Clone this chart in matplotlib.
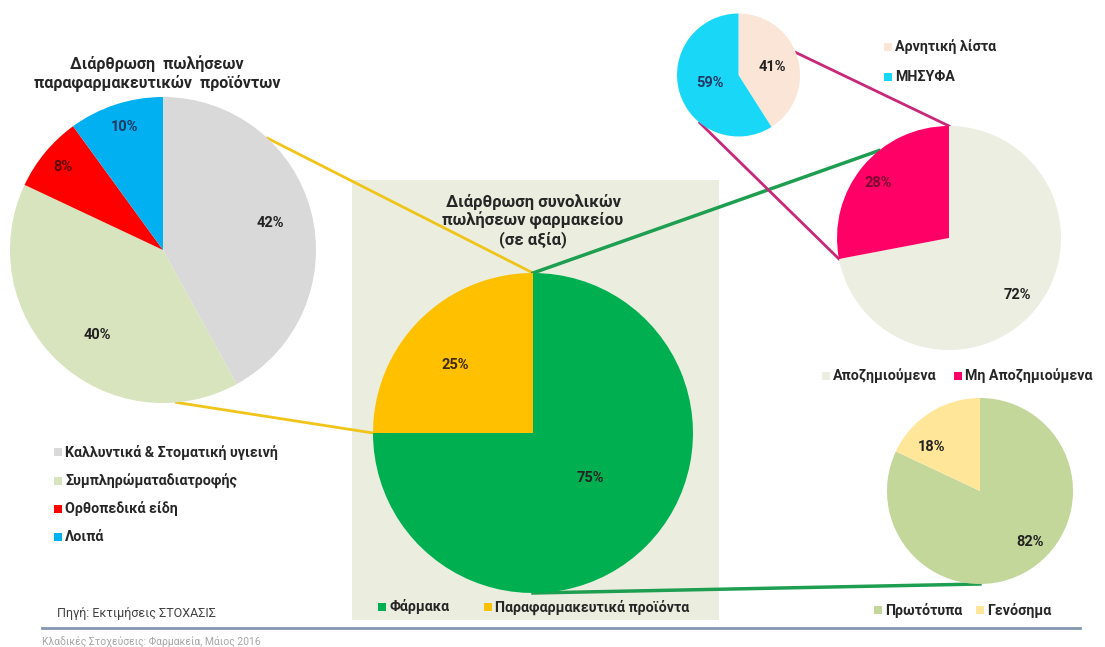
import numpy as np
import matplotlib.pyplot as plt
from matplotlib.patches import Rectangle

plt.rcParams['font.family'] = ['Roboto', 'DejaVu Sans']

# parapharmacy products breakdown
para_labels = ['Καλλυντικά & Στοματική υγιεινή', 'Συμπληρώματαδιατροφής', 'Ορθοπεδικά είδη', 'Λοιπά']
para_values = [42, 40, 8, 10]
para_colors = ['#d9d9d9', '#d7e4bd', '#ff0000', '#00b0f0']

# total pharmacy sales
total_labels = ['Φάρμακα', 'Παραφαρμακευτικά προϊόντα']
total_values = [75, 25]
total_colors = ['#00b050', '#ffc000']

# drugs: reimbursed vs not
drug_labels = ['Αποζημιούμενα', 'Μη Αποζημιούμενα']
drug_values = [72, 28]
drug_colors = ['#ebeee0', '#ff0066']

# non reimbursed drugs
nonreimb_labels = ['Αρνητική λίστα', 'ΜΗΣΥΦΑ']
nonreimb_values = [41, 59]
nonreimb_colors = ['#fbe5d6', '#19d7f7']

# originals vs generics
generic_labels = ['Πρωτότυπα', 'Γενόσημα']
generic_values = [82, 18]
generic_colors = ['#c4d79b', '#ffe699']

W, H = 1105, 647
fig = plt.figure(figsize=(W / 100, H / 100), dpi=100)
ax = fig.add_axes([0, 0, 1, 1])


def edge(cx, cy, r, ang):
    a = np.radians(ang)
    return cx + r * np.cos(a), H - cy + r * np.sin(a)


def boundary(values, i):
    # angle of the wedge boundary after the first i slices (start at top, clockwise)
    return 90 - 360 * sum(values[:i]) / sum(values)


def draw_pie(values, colors, cx, cy, r, label_xy, label_colors):
    ax.pie(values, colors=colors, center=(cx, H - cy), radius=r, startangle=90,
           counterclock=False, wedgeprops=dict(linewidth=0), frame=True)
    for v, (lx, ly), c in zip(values, label_xy, label_colors):
        ax.text(lx, H - ly, f'{v}%', ha='center', va='center', fontsize=10.5,
                fontweight='bold', color=c, zorder=5)


def legend_item(x, y, color, text):
    ax.add_patch(Rectangle((x - 4, H - y - 4), 8, 8, color=color, lw=0, zorder=5))
    ax.text(x + 7, H - y, text, ha='left', va='center', fontsize=10.3,
            fontweight='bold', color='#262626', zorder=5)


# background panel behind the total sales pie
ax.add_patch(Rectangle((352, H - 620), 367, 440, color='#ebeedf', lw=0, zorder=0))

left = (163, 250, 153)
mid = (533, 433, 160)
small = (738.5, 75, 61.5)
big = (949, 238, 112)
gen = (980, 491, 93)

# connector lines
ax.plot(*zip(edge(*left, 47), edge(*mid, 90)), color='#f0c419', lw=2, zorder=1)
ax.plot(*zip(edge(*left, -85), edge(*mid, boundary(total_values, 1))), color='#f0c419', lw=2, zorder=1)
ax.plot(*zip(edge(*mid, 90), edge(*big, 128.7)), color='#1e9e50', lw=2.5, zorder=1)
ax.plot(*zip(edge(*mid, -90), edge(*gen, -90)), color='#1e9e50', lw=2.5, zorder=1)
ax.plot(*zip(edge(*small, 21.5), edge(*big, 90)), color='#c8287a', lw=2, zorder=1)
ax.plot(*zip(edge(*small, -129), edge(*big, boundary(drug_values, 1))), color='#c8287a', lw=2, zorder=1)

draw_pie(para_values, para_colors, *left,
         [(270, 223), (97, 335), (63, 167), (125, 127)],
         ['#222222', '#222222', '#5a0000', '#1f3864'])
draw_pie(total_values, total_colors, *mid,
         [(590, 478), (455, 365)], ['#222222', '#3d2a00'])
draw_pie(nonreimb_values, nonreimb_colors, *small,
         [(772, 67), (710, 83)], ['#222222', '#1f3864'])
draw_pie(drug_values, drug_colors, *big,
         [(1017, 295), (878, 183)], ['#222222', '#7a0030'])
draw_pie(generic_values, generic_colors, *gen,
         [(1030, 542), (932, 447)], ['#222222', '#222222'])

# titles
ax.text(157, H - 73, 'Διάρθρωση  πωλήσεων\nπαραφαρμακευτικών  προϊόντων', ha='center',
        va='center', fontsize=11.5, fontweight='bold', color='#262626', linespacing=1.2)
ax.text(533, H - 221, 'Διάρθρωση συνολικών\nπωλήσεων φαρμακείου\n(σε αξία)', ha='center',
        va='center', fontsize=12, fontweight='bold', color='#262626', linespacing=1.15)

# legends
for lab, col, y in zip(para_labels, para_colors, [452, 481, 509, 537]):
    legend_item(58, y, col, lab)
for lab, col, x in zip(total_labels, total_colors, [382, 488]):
    legend_item(x, 607, col, lab)
for lab, col, y in zip(nonreimb_labels, nonreimb_colors, [47, 77]):
    legend_item(888, y, col, lab)
for lab, col, x in zip(drug_labels, drug_colors, [826, 958]):
    legend_item(x, 376, col, lab)
for lab, col, x in zip(generic_labels, generic_colors, [878, 980]):
    legend_item(x, 610, col, lab)

# source and footer
ax.text(57, H - 614, 'Πηγή: Εκτιμήσεις ΣΤΟΧΑΣΙΣ', ha='left', va='center', fontsize=9, color='#404040')
ax.plot([42, 1080], [H - 628, H - 628], color='#8496b0', lw=2)
ax.text(42, H - 642, 'Κλαδικές Στοχεύσεις: Φαρμακεία, Μάιος 2016', ha='left', va='center',
        fontsize=7.5, color='#a6a6a6')

ax.set_aspect('equal', adjustable='box')
ax.set_xlim(0, W)
ax.set_ylim(0, H)
ax.axis('off')

fig.savefig('out.png', dpi=100, facecolor='white')
